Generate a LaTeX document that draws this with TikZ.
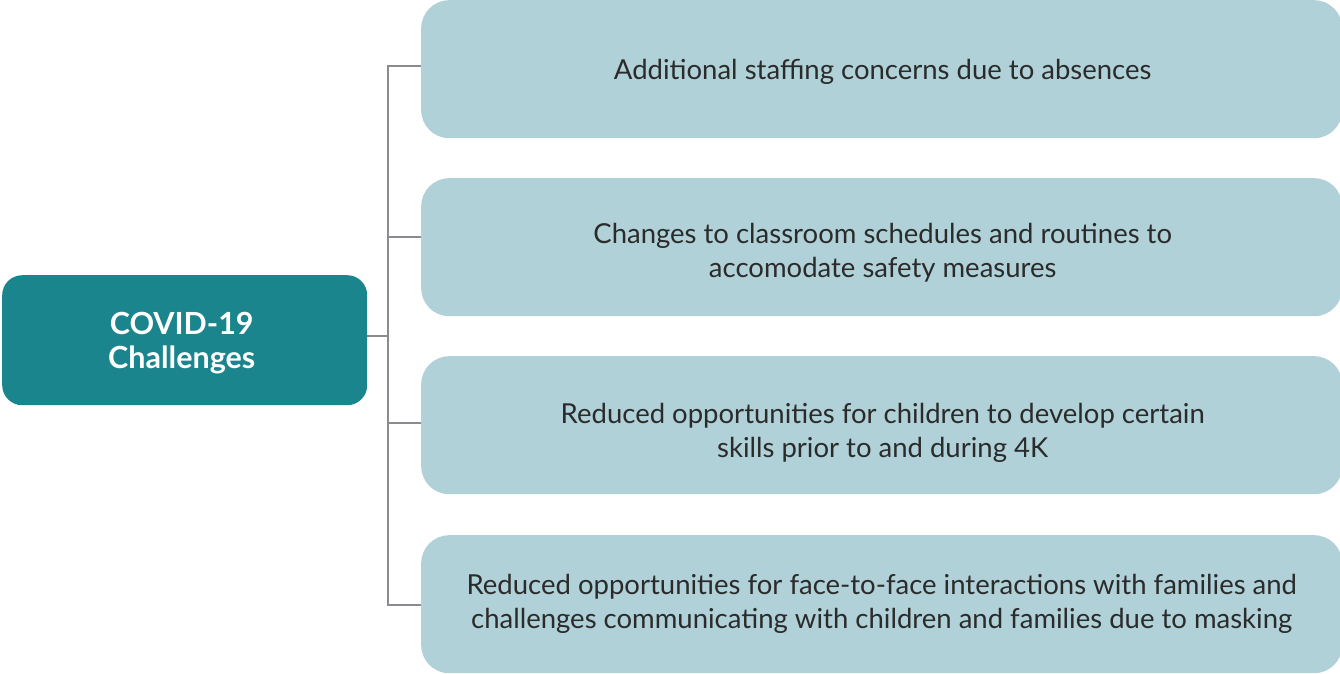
\documentclass[tikz,border=0pt]{standalone}
\usepackage{fontspec}
\setmainfont{Lato}
\definecolor{teal1}{HTML}{1A858C}
\definecolor{lightb}{HTML}{AFD1D7}
\definecolor{linec}{HTML}{8A8A8F}
\definecolor{txt}{HTML}{2B2B2B}
\begin{document}
\begin{tikzpicture}[x=1pt,y=-1pt,
  item/.style={fill=lightb, rounded corners=28pt, minimum width=921pt, minimum height=138pt, anchor=north west, inner sep=0pt},
  itemtext/.style={align=center, text=txt, inner sep=0pt, font=\fontsize{27.5}{34}\selectfont},
  head/.style={fill=teal1, rounded corners=20pt, minimum width=365pt, minimum height=130pt, anchor=north west, inner sep=0pt},
  headtext/.style={align=center, text=white, inner sep=0pt, font=\fontsize{30.5}{34}\selectfont\bfseries},
  conn/.style={draw=linec, line width=2pt}]
\useasboundingbox (0,0) rectangle (1340,673);
\begin{scope}
\clip (0,0) rectangle (1340,673);
\node[head] (h) at (2,275) {};
\node[headtext] (ht) at ([shift={(-3,3)}]h.center) {COVID-19\\Challenges};
\node[item] (a) at (421,0) {};
\node[item] (b) at (421,178) {};
\node[item] (c) at (421,356) {};
\node[item] (d) at (421,535) {};
\node[itemtext] (at) at ([shift={(1,3)}]a.center) {Additional staffing concerns due to absences};
\node[itemtext] (bt) at ([shift={(1,6)}]b.center) {Changes to classroom schedules and routines to\\accomodate safety measures};
\node[itemtext] (ct) at ([shift={(1,8)}]c.center) {Reduced opportunities for children to develop certain\\skills prior to and during 4K};
\node[itemtext] (dt) at ([shift={(0,0)}]d.center) {Reduced opportunities for face-to-face interactions with families and\\challenges communicating with children and families due to masking};
\coordinate (j) at (388,336);
\coordinate (ja) at (388,66);
\coordinate (jb) at (388,237);
\coordinate (jc) at (388,423);
\coordinate (jd) at (388,605);
\draw[conn] (h.east |- j) -- (j);
\draw[conn] (a.west |- ja) -- (ja) -- (jd) -- (d.west |- jd);
\draw[conn] (jb) -- (b.west |- jb);
\draw[conn] (jc) -- (c.west |- jc);
\end{scope}
\end{tikzpicture}
\end{document}
